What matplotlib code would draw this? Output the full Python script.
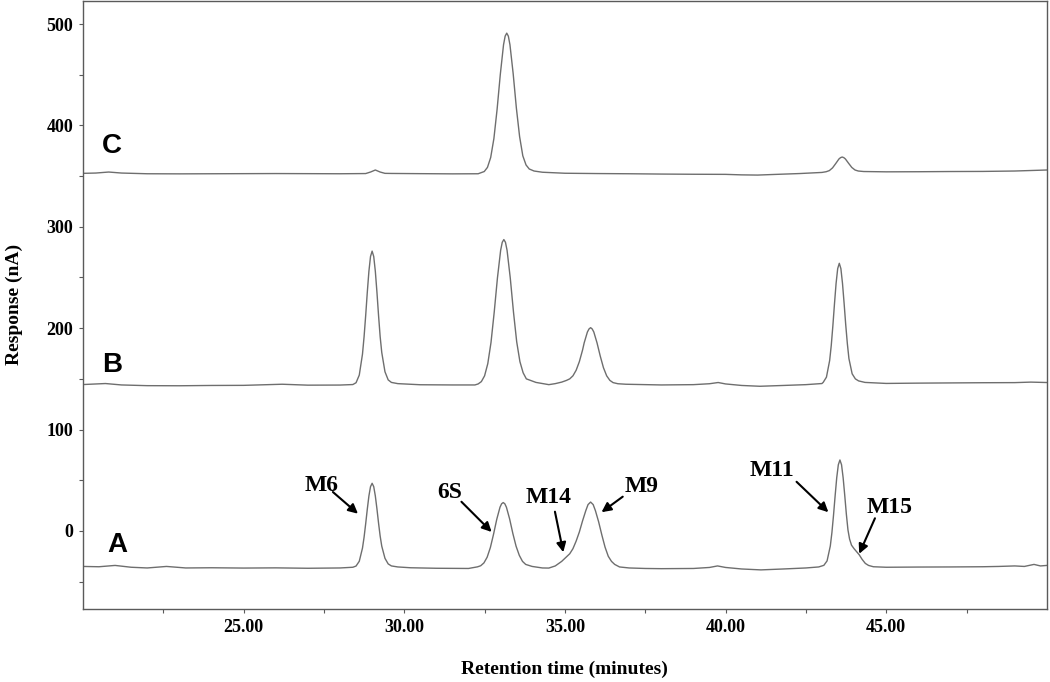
import matplotlib
matplotlib.use("Agg")
import matplotlib.pyplot as plt
from matplotlib.ticker import MultipleLocator, FixedLocator

# trace A (sample): retention time (min) / response (nA)
time_a = [20.0, 20.5, 21.0, 21.5, 22.0, 22.6, 23.2, 24.0, 25.0, 26.0, 27.0, 28.0, 28.4,
          28.5, 28.6, 28.7, 28.75, 28.8, 28.85, 28.9, 28.95, 29.0, 29.05, 29.1, 29.15, 29.2,
          29.25, 29.3, 29.4, 29.5, 29.6, 29.8, 30.2, 31.0, 32.0,
          32.28, 32.38, 32.48, 32.58, 32.68, 32.78, 32.88, 32.98, 33.03, 33.08, 33.13, 33.18,
          33.28, 33.38, 33.48, 33.58, 33.68, 33.78, 33.98, 34.3,
          34.5, 34.7, 34.9, 35.05, 35.15, 35.25, 35.35, 35.45, 35.55, 35.65, 35.72, 35.8,
          35.88, 35.95, 36.05, 36.15, 36.25, 36.35, 36.45, 36.55, 36.7, 37.0,
          37.5, 38.0, 39.0, 39.5, 39.75, 40.0, 40.5, 41.1, 41.8, 42.5, 42.9,
          43.06, 43.16, 43.26, 43.31, 43.36, 43.41, 43.46, 43.51, 43.56, 43.61, 43.66, 43.71,
          43.76, 43.81, 43.86, 43.92, 44.0, 44.08, 44.16, 44.25, 44.35, 44.45, 44.6,
          45.0, 46.0, 47.0, 48.0, 48.5, 49.0, 49.3, 49.6, 49.8, 50.0]
resp_a = [-35.0, -35.3, -34.0, -35.8, -36.5, -35.0, -36.5, -36.3, -36.6, -36.4, -36.8, -36.5, -35.8,
          -34.6, -29.9, -16.9, -6.1, 7.2, 21.5, 34.5, 43.7, 47.0, 43.7, 34.5, 21.8, 7.8,
          -5.0, -15.0, -27.0, -32.5, -34.5, -35.5, -36.3, -36.8, -37.0,
          -35.4, -34.3, -31.5, -25.9, -16.4, -3.1, 11.6, 23.4, 26.8, 28.0, 26.8, 23.4,
          11.8, -2.5, -15.0, -24.0, -30.0, -33.0, -35.0, -36.5,
          -36.6, -34.5, -30.0, -25.5, -22.5, -17.5, -10.0, -1.0, 10.0, 20.0, 26.0, 28.5,
          26.0, 20.0, 9.0, -4.0, -16.0, -25.0, -30.0, -33.0, -35.5, -36.5,
          -37.0, -37.2, -37.0, -36.0, -34.5, -36.0, -37.5, -38.4, -37.5, -36.5, -35.5,
          -33.9, -29.5, -14.9, -1.7, 15.4, 34.5, 52.4, 65.3, 70.0, 65.3, 52.4, 35.0,
          16.5, 1.0, -8.0, -14.0, -17.5, -20.5, -23.5, -28.0, -32.0, -34.0, -35.3,
          -35.8, -35.6, -35.5, -35.3, -35.0, -34.5, -35.0, -33.0, -34.5, -34.0]

# trace B (standards)
time_b = [20.0, 20.7, 21.2, 22.0, 23.0, 24.0, 25.0, 26.2, 27.0, 28.0, 28.4,
          28.5, 28.6, 28.7, 28.75, 28.8, 28.85, 28.9, 28.95, 29.0, 29.05, 29.1, 29.15, 29.2,
          29.25, 29.3, 29.4, 29.5, 29.6, 29.8, 30.5, 31.5, 32.2,
          32.3, 32.4, 32.5, 32.6, 32.7, 32.8, 32.9, 33.0, 33.05, 33.1, 33.15, 33.2, 33.3,
          33.4, 33.5, 33.6, 33.7, 33.8, 34.1,
          34.5, 34.7, 34.9, 35.05, 35.15, 35.25, 35.35, 35.45, 35.55, 35.6, 35.7, 35.75, 35.8,
          35.85, 35.9, 36.0, 36.1, 36.2, 36.3, 36.4, 36.5, 36.65, 36.9,
          38.0, 39.0, 39.5, 39.77, 40.0, 40.5, 41.07, 41.8, 42.5, 43.0,
          43.04, 43.14, 43.24, 43.29, 43.34, 43.39, 43.44, 43.49, 43.54, 43.59, 43.64, 43.69,
          43.74, 43.79, 43.84, 43.94, 44.04, 44.14, 44.34,
          45.0, 46.0, 47.0, 48.0, 49.0, 49.5, 50.0]
resp_b = [144.4, 145.4, 144.0, 143.3, 143.2, 143.5, 143.6, 144.7, 143.8, 143.9, 144.4,
          146.2, 153.7, 174.4, 191.7, 212.6, 235.5, 256.1, 270.7, 276.0, 270.7, 256.1, 235.5, 212.6,
          191.7, 176.0, 157.0, 149.0, 146.5, 145.3, 144.2, 144.0, 144.0,
          145.0, 147.3, 153.0, 165.0, 185.9, 215.8, 249.4, 276.8, 284.7, 287.4, 284.7, 276.8, 249.4,
          215.8, 186.5, 167.0, 156.0, 150.0, 146.5,
          144.3, 145.3, 146.8, 148.5, 150.0, 153.0, 158.5, 167.0, 178.5, 185.5, 196.2, 199.2, 200.5,
          199.2, 196.2, 185.5, 172.5, 161.0, 153.0, 148.5, 146.3, 145.2, 144.7,
          144.0, 144.3, 145.2, 146.4, 145.0, 143.5, 142.7, 143.5, 144.3, 145.4,
          146.6, 151.7, 168.1, 183.0, 202.3, 223.9, 244.1, 258.7, 264.0, 258.7, 244.1, 224.5,
          203.5, 185.0, 170.0, 155.0, 150.0, 148.0, 146.5,
          145.5, 145.8, 146.0, 146.2, 146.3, 146.8, 146.4]

# trace C (control)
time_c = [20.0, 20.4, 20.8, 21.2, 22.0, 23.0, 24.0, 25.0, 26.0, 27.0, 28.0, 28.8,
          28.95, 29.1, 29.25, 29.4, 29.6, 30.5, 31.5, 32.3,
          32.49, 32.59, 32.69, 32.79, 32.89, 32.99, 33.09, 33.14, 33.19, 33.24, 33.29, 33.39,
          33.49, 33.59, 33.69, 33.79, 33.89, 34.04, 34.3,
          35.0, 36.0, 37.0, 38.0, 39.0, 40.0, 40.5, 41.0, 41.5, 42.3, 43.0,
          43.13, 43.23, 43.33, 43.43, 43.53, 43.58, 43.63, 43.68, 43.73, 43.83, 43.93, 44.03,
          44.13, 44.3,
          45.0, 46.0, 47.0, 48.0, 49.0, 49.5, 50.0]
resp_c = [352.7, 353.0, 354.0, 353.0, 352.3, 352.2, 352.3, 352.4, 352.5, 352.4, 352.3, 352.5,
          354.0, 356.0, 354.0, 352.7, 352.6, 352.4, 352.2, 352.3,
          354.5, 358.6, 368.3, 387.0, 415.9, 450.4, 479.5, 488.0, 491.0, 488.0, 479.5, 451.0,
          417.0, 389.0, 370.0, 361.0, 357.0, 355.0, 353.8,
          352.8, 352.5, 352.3, 352.0, 351.8, 351.7, 351.2, 351.0, 351.6, 352.5, 353.6,
          354.3, 355.4, 358.1, 362.4, 366.9, 368.2, 368.8, 368.2, 366.9, 362.6, 358.5, 356.0,
          355.0, 354.5,
          354.2, 354.3, 354.5, 354.6, 355.0, 355.5, 356.0]

trace_names = ["A", "B", "C"]
peak_names = ["M6", "6S", "M14", "M9", "M11", "M15"]

x_major = [25, 30, 35, 40, 45]
x_minor = [22.5, 27.5, 32.5, 37.5, 42.5, 47.5]

SERIF = "Liberation Serif"
SANS = "Liberation Sans"
LINE = "#6e6e6e"
SPINE = "#5a5a5a"

fig = plt.figure(figsize=(10.5, 6.82), dpi=100)
ax = fig.add_axes([0.079, 0.107, 0.918, 0.892])

for t, r in ((time_a, resp_a), (time_b, resp_b), (time_c, resp_c)):
    ax.plot(t, r, color=LINE, lw=1.0)

ax.set_xlim(20, 50)
ax.set_ylim(-77, 523)

ax.xaxis.set_major_locator(FixedLocator(x_major))
ax.xaxis.set_minor_locator(FixedLocator(x_minor))
ax.set_xticklabels([f"{v:.2f}" for v in x_major])
ax.yaxis.set_major_locator(MultipleLocator(100))
ax.yaxis.set_minor_locator(MultipleLocator(50))
ax.set_yticks(range(0, 501, 100))

ax.tick_params(which="both", direction="out", length=3, width=0.8, color=SPINE, pad=4)
for lab in ax.get_xticklabels() + ax.get_yticklabels():
    lab.set_fontfamily(SERIF)
    lab.set_fontweight("bold")
    lab.set_fontsize(13)
for s in ax.spines.values():
    s.set_color(SPINE)
    s.set_linewidth(1.0)

ax.set_xlabel("Retention time (minutes)", family=SERIF, weight="bold", fontsize=14, labelpad=18)
ax.set_ylabel("Response (nA)", family=SERIF, weight="bold", fontsize=14, labelpad=17)

# trace letters
for name, (tx, ty) in zip(trace_names, [(21.07, -14), (20.92, 164), (20.9, 380)]):
    ax.text(tx, ty, name, family=SANS, weight="bold", fontsize=20, ha="center", va="center")

# peak labels with arrows (text centre, arrow tail, arrow head)
marks = [((27.44, 45.3), (27.78, 38.4), (28.56, 17.0)),
         ((31.40, 37.9), (31.78, 28.8), (32.72, -1.0)),
         ((34.50, 33.0), (34.69, 19.0), (34.95, -21.0)),
         ((37.39, 43.6), (36.80, 33.8), (36.14, 18.5)),
         ((41.46, 59.2), (42.21, 48.5), (43.20, 18.5)),
         ((45.12, 23.1), (44.65, 12.5), (44.16, -22.5))]
for name, (txt, tail, head) in zip(peak_names, marks):
    ax.text(txt[0], txt[1], name, family=SERIF, weight="bold", fontsize=17,
            ha="center", va="center")
    ax.annotate("", xy=head, xytext=tail,
                arrowprops=dict(arrowstyle="-|>", color="black", lw=1.5,
                                mutation_scale=14, shrinkA=0, shrinkB=0))

fig.savefig("out.png", dpi=100)
